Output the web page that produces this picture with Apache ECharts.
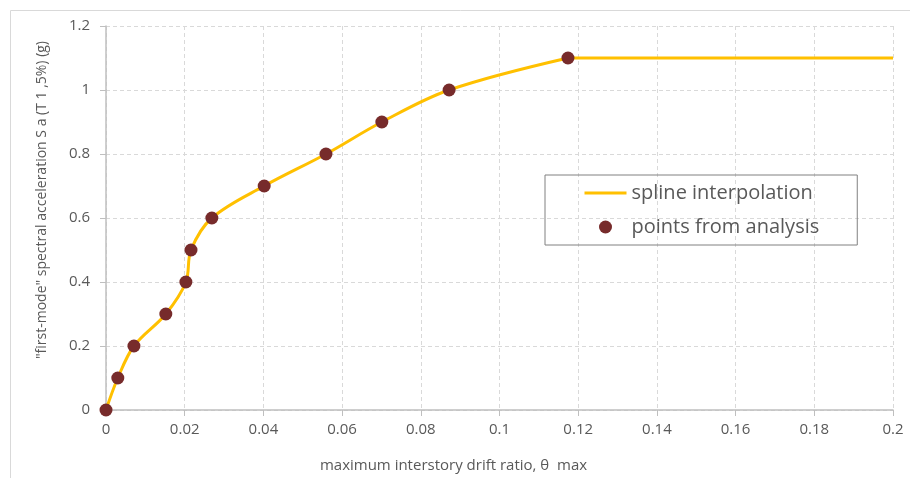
<!DOCTYPE html>
<html>
<head>
<meta charset="utf-8">
<script src="https://cdn.jsdelivr.net/npm/echarts@6/dist/echarts.min.js"></script>
<style>
  html, body { margin: 0; padding: 0; background: #fff; }
  #chart { width: 910px; height: 478px; }
</style>
</head>
<body>
<div id="chart"></div>
<script>
// drift ratio (x) and spectral acceleration (y)
const drift = [0, 0.003, 0.0071, 0.0152, 0.0203, 0.0216, 0.0269, 0.0402, 0.0559, 0.0701, 0.0872, 0.1174]
const accel = [0, 0.1, 0.2, 0.3, 0.4, 0.5, 0.6, 0.7, 0.8, 0.9, 1.0, 1.1]
// constant branch after the last analysis point
const plateauX = [0.1174, 0.2]
const plateauY = [1.1, 1.1]

const points = drift.map((d, i) => [d, accel[i]])
const plateau = plateauX.map((d, i) => [d, plateauY[i]])

const lineColor = '#FFC000'
const dotColor = '#772B2B'
const textColor = '#595959'
const font = 'Open Sans'

const chart = echarts.init(document.getElementById('chart'))

chart.setOption({
    animation: false,
    textStyle: { fontFamily: font },
    graphic: [{
        type: 'rect',
        shape: { x: 10.5, y: 10.5, width: 940, height: 500 },
        style: { fill: 'none', stroke: '#d9d9d9', lineWidth: 1 },
        silent: true
    }],
    grid: { left: 106, right: 17, top: 26, bottom: 66 },
    legend: {
        orient: 'vertical',
        left: 545,
        top: 175,
        data: [
            // only the line in the legend icon, no marker
            { name: 'spline interpolation', itemStyle: { opacity: 0 }, lineStyle: { width: 3 } },
            { name: 'points from analysis' }
        ],
        borderColor: '#808080',
        borderWidth: 1,
        borderRadius: 0,
        padding: [8, 38, 8, 38],
        itemGap: 14,
        itemWidth: 42,
        itemHeight: 13,
        textStyle: { fontSize: 20, color: textColor, fontFamily: font }
    },
    xAxis: {
        type: 'value',
        min: 0,
        max: 0.2,
        interval: 0.02,
        name: 'maximum interstory drift ratio, θ  max',
        nameLocation: 'middle',
        nameGap: 48,
        nameTextStyle: { fontSize: 15, color: textColor, padding: [0, 92, 0, 0] },
        axisLine: { lineStyle: { color: '#bfbfbf', width: 1.5 } },
        axisTick: { show: true, length: 6, lineStyle: { color: '#bfbfbf' } },
        axisLabel: { fontSize: 15, color: textColor, margin: 12 },
        splitLine: { lineStyle: { color: '#d9d9d9', type: [4, 3] } }
    },
    yAxis: {
        type: 'value',
        min: 0,
        max: 1.2,
        interval: 0.2,
        name: '"first-mode" spectral acceleration S a (T 1 ,5%) (g)',
        nameLocation: 'middle',
        nameGap: 57,
        nameTextStyle: { fontSize: 14, color: textColor, padding: [0, 0, 0, 36] },
        axisLine: { show: true, lineStyle: { color: '#bfbfbf', width: 1.5 } },
        axisTick: { show: true, length: 6, lineStyle: { color: '#bfbfbf' } },
        axisLabel: { fontSize: 15, color: textColor, margin: 16 },
        splitLine: { lineStyle: { color: '#d9d9d9', type: [4, 3] } }
    },
    series: [
        {
            name: 'spline interpolation',
            type: 'line',
            data: points,
            smooth: 0.35,
            symbol: 'none',
            lineStyle: { color: lineColor, width: 3 },
            itemStyle: { color: lineColor },
            z: 2
        },
        {
            name: 'plateau',
            type: 'line',
            data: plateau,
            symbol: 'none',
            lineStyle: { color: lineColor, width: 3 },
            z: 2
        },
        {
            name: 'points from analysis',
            type: 'scatter',
            data: points,
            symbol: 'circle',
            symbolSize: 13,
            itemStyle: { color: dotColor, opacity: 1 },
            z: 3
        }
    ]
})
</script>
</body>
</html>
